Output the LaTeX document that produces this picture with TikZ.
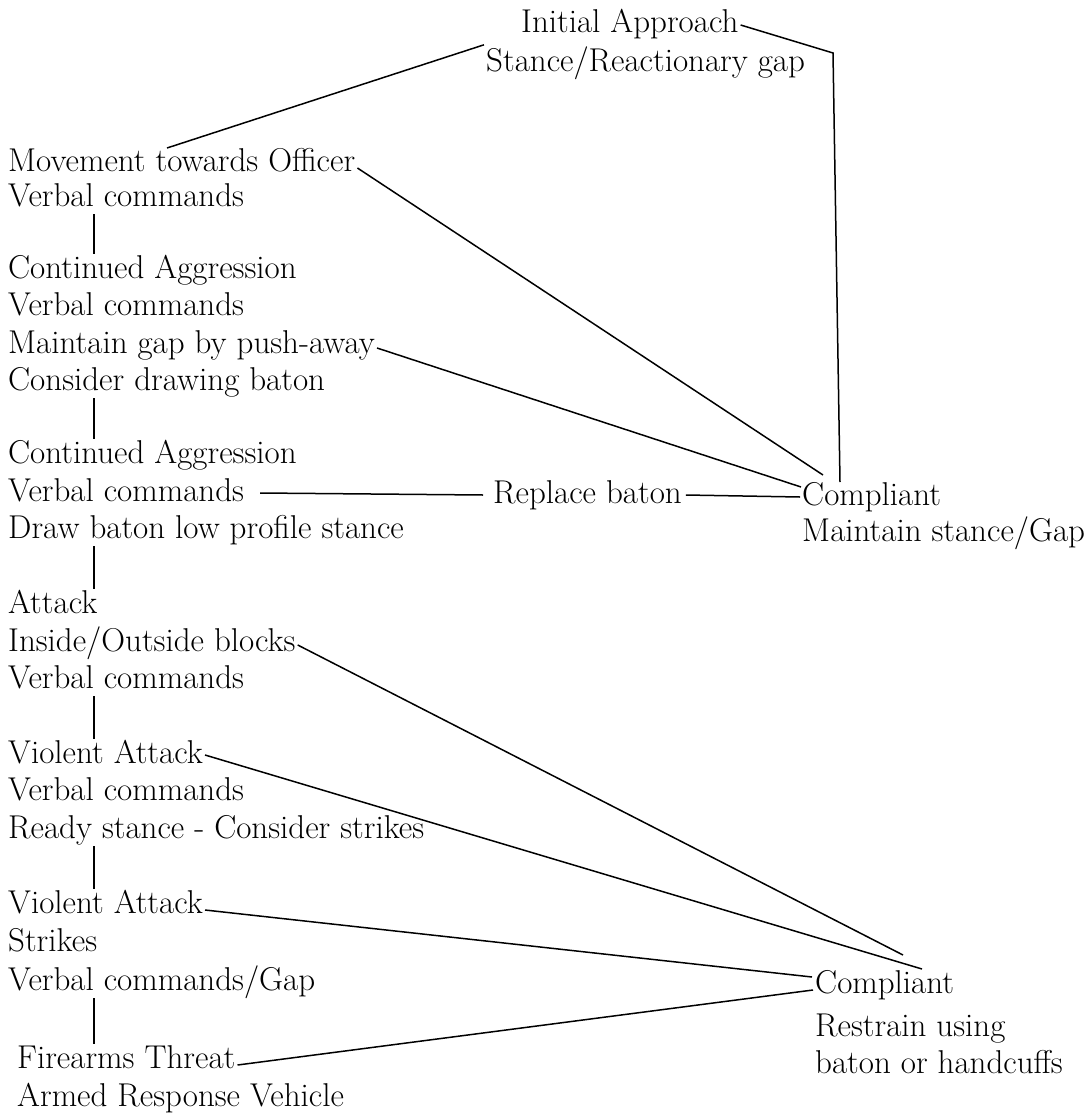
\documentclass[tikz,border=0pt]{standalone}
\begin{document}
\begin{tikzpicture}[x=1pt,y=-1pt,
  lbl/.style={anchor=west, inner sep=0pt, inner xsep=2pt, font=\fontsize{33}{40}\selectfont, text height=24pt, text depth=8pt},
  ln/.style={line width=1.5pt}]
\useasboundingbox (0,0) rectangle (1084,1116);
\fill[white] (0,0) rectangle (1084,1116);
% top
\node[lbl] (ia) at (519,25) {Initial Approach};
\node[lbl] (sg) at (484,63) {Stance/Reactionary gap};
% left column
\node[lbl] (m1) at (6,163) {Movement towards Officer};
\node[lbl] (m2) at (6,198) {Verbal commands};
\node[lbl] (a1) at (6,270) {Continued Aggression};
\node[lbl] (a2) at (6,307) {Verbal commands};
\node[lbl] (a3) at (6,345) {Maintain gap by push-away};
\node[lbl] (a4) at (6,382) {Consider drawing baton};
\node[lbl] (b1) at (6,455) {Continued Aggression};
\node[lbl] (b2) at (6,493) {Verbal commands};
\node[lbl] (b3) at (6,530) {Draw baton low profile stance};
\node[lbl] (c1) at (6,605) {Attack};
\node[lbl] (c2) at (6,643) {Inside/Outside blocks};
\node[lbl] (c3) at (6,680) {Verbal commands};
\node[lbl] (d1) at (6,755) {Violent Attack};
\node[lbl] (d2) at (6,792) {Verbal commands};
\node[lbl] (d3) at (6,830) {Ready stance - Consider strikes};
\node[lbl] (e1) at (6,905) {Violent Attack};
\node[lbl] (e2) at (6,943) {Strikes};
\node[lbl] (e3) at (6,982) {Verbal commands/Gap};
\node[lbl] (f1) at (15,1060) {Firearms Threat};
\node[lbl] (f2) at (15,1098) {Armed Response Vehicle};
% middle / right
\node[lbl] (rb) at (491,495) {Replace baton};
\node[lbl] (k1) at (800,497) {Compliant};
\node[lbl] (k2) at (800,533) {Maintain stance/Gap};
\node[lbl] (r1) at (813,985) {Compliant};
\node[lbl] (r2) at (813,1028) {Restrain using};
\node[lbl] (r3) at (813,1065) {baton or handcuffs};
% coordinates for free ends
\coordinate (vx) at (94,0);
\coordinate (iacorner) at (833,53);
\coordinate (k1top) at (840,482);
\coordinate (m1top) at (167,148);
\coordinate (k1a) at (823,475);
\coordinate (k1b) at (801,487);
\coordinate (r1a) at (903,955);
\coordinate (r1b) at (922,969);
\coordinate (r1c) at (812,977);
\coordinate (r1d) at (813,990);
% connectors
\draw[ln] (ia.east) -- (iacorner) -- (k1top);
\draw[ln] ([yshift=2pt]sg.north west) -- (m1top);
\draw[ln] ([yshift=-5pt]m1.east) -- (k1a);
\draw[ln] ([yshift=-3pt]a3.east) -- (k1b);
\draw[ln] ([xshift=14pt]b2.east) -- ([xshift=-8pt]rb.west);
\draw[ln] ([xshift=2pt]rb.east) -- (k1.west);
\draw[ln] ([yshift=-2pt]c2.east) -- (r1a);
\draw[ln] (d1.east) -- (r1b);
\draw[ln] ([yshift=-5pt]e1.east) -- (r1c);
\draw[ln] ([yshift=-5pt]f1.east) -- (r1d);
% vertical links
\draw[ln] (m2.south -| vx) -- (a1.north -| vx);
\draw[ln] (a4.south -| vx) -- (b1.north -| vx);
\draw[ln] (b3.south -| vx) -- (c1.north -| vx);
\draw[ln] (c3.south -| vx) -- (d1.north -| vx);
\draw[ln] (d3.south -| vx) -- (e1.north -| vx);
\draw[ln] (e3.south -| vx) -- (f1.north -| vx);
\end{tikzpicture}
\end{document}
